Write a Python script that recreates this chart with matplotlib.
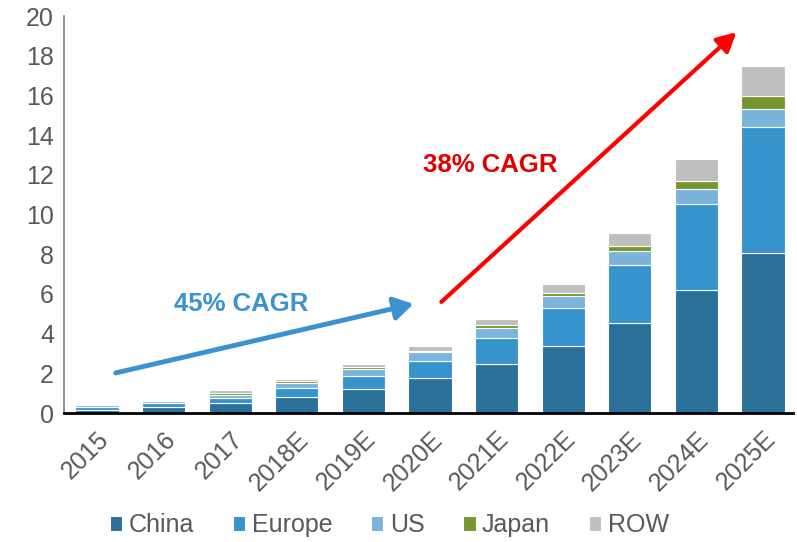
import matplotlib
matplotlib.use("Agg")
import matplotlib.pyplot as plt
import numpy as np

plt.rcParams['font.family'] = ['Liberation Sans', 'DejaVu Sans']

# ----------------------------
# Data
# ----------------------------
years = ["2015", "2016", "2017", "2018E", "2019E", "2020E",
         "2021E", "2022E", "2023E", "2024E", "2025E"]
china = [0.15, 0.28, 0.49, 0.81, 1.21, 1.75, 2.49, 3.38, 4.56, 6.20, 8.08]
europe = [0.15, 0.20, 0.27, 0.44, 0.64, 0.89, 1.30, 1.91, 2.88, 4.35, 6.32]
us = [0.08, 0.10, 0.16, 0.27, 0.35, 0.44, 0.49, 0.61, 0.71, 0.75, 0.90]
japan = [0.02, 0.02, 0.07, 0.08, 0.10, 0.07, 0.15, 0.16, 0.25, 0.40, 0.66]
row = [0.05, 0.05, 0.15, 0.12, 0.16, 0.25, 0.32, 0.44, 0.69, 1.10, 1.54]

series = [("China", china, "#2B7099"),
          ("Europe", europe, "#3793CC"),
          ("US", us, "#7AB4DA"),
          ("Japan", japan, "#77962F"),
          ("ROW", row, "#BFBFBF")]

grey = "#595959"

fig = plt.figure(figsize=(7.97, 5.42), dpi=100)
ax = fig.add_axes([0.080, 0.238, 0.915, 0.732])

x = np.arange(len(years))
bottom = np.zeros(len(years))
for name, vals, col in series:
    ax.bar(x, vals, width=0.65, bottom=bottom, color=col, label=name,
           edgecolor="white", linewidth=0.8)
    bottom += np.array(vals)

ax.set_ylim(0, 20)
ax.set_xlim(-0.5, 10.45)
ax.set_yticks(range(0, 21, 2))
ax.tick_params(axis="y", length=0, labelsize=18, labelcolor=grey, pad=7)
ax.tick_params(axis="x", length=0, labelsize=18, labelcolor=grey, pad=10)
ax.set_xticks(x)
ax.set_xticklabels(years, rotation=45, ha="right", rotation_mode="anchor")

for s in ["top", "right"]:
    ax.spines[s].set_visible(False)
ax.spines["left"].set_color("#7F7F7F")
ax.spines["left"].set_linewidth(1.2)
ax.spines["bottom"].set_color("black")
ax.spines["bottom"].set_linewidth(2)

# CAGR arrows
ax.annotate("", xy=(4.75, 5.5), xytext=(0.28, 2.02),
            arrowprops=dict(arrowstyle="-|>,head_length=1.15,head_width=0.7",
                            color="#3A93CE", lw=3.5, shrinkA=0, shrinkB=0))
ax.text(2.16, 5.5, "45% CAGR", color="#3A93CE", fontsize=18.5,
        fontweight="bold", ha="center", va="center")

ax.annotate("", xy=(9.6, 19.2), xytext=(5.17, 5.6),
            arrowprops=dict(arrowstyle="-|>,head_length=1.15,head_width=0.6",
                            color="#FF0000", lw=3, shrinkA=0, shrinkB=0))
ax.text(5.9, 12.5, "38% CAGR", color="#E00000", fontsize=18.5,
        fontweight="bold", ha="center", va="center")

ax.legend(loc="center", bbox_to_anchor=(0.4465, -0.283), ncol=5, frameon=False,
          fontsize=18, labelcolor=grey, handlelength=0.5, handleheight=0.5,
          handletextpad=0.25, columnspacing=1.55)

fig.savefig("out.png", dpi=100)
